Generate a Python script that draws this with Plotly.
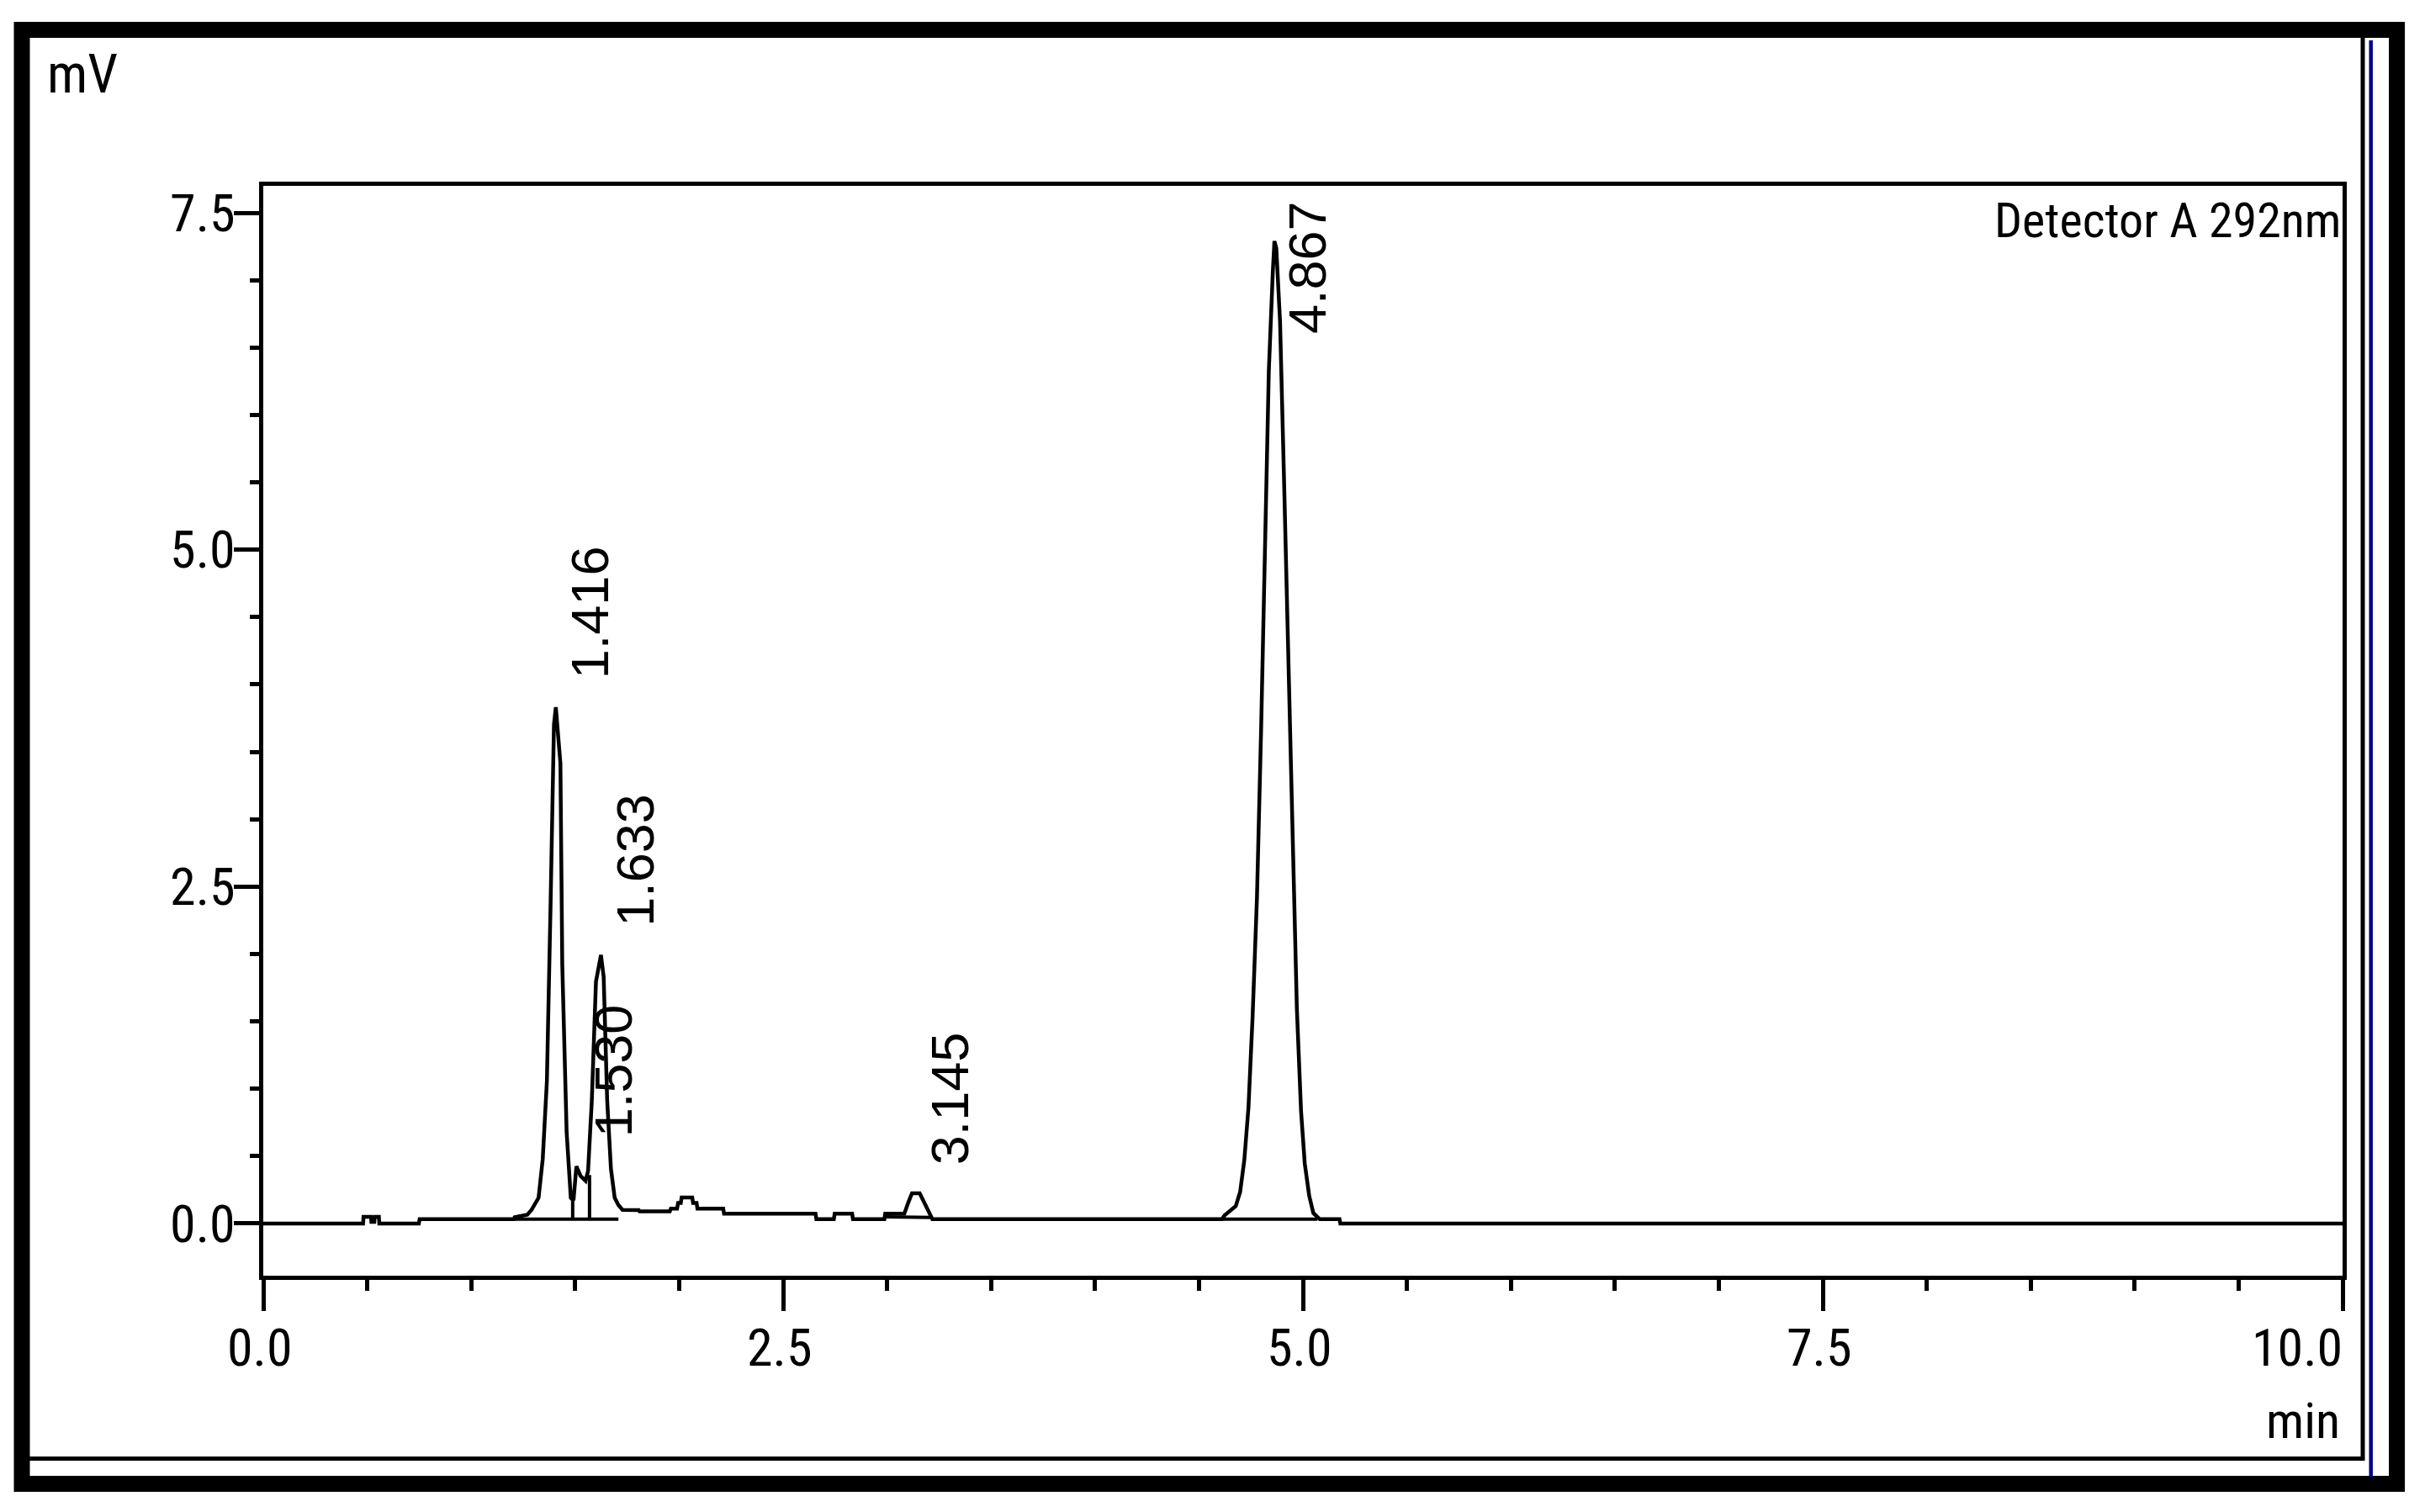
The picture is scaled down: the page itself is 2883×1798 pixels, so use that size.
import plotly.graph_objects as go

# ---------------- data ----------------
time_min = [
    0.000, 0.480, 0.482, 0.518, 0.520, 0.534, 0.536, 0.556, 0.558, 0.748, 0.752,
    1.205, 1.209, 1.270, 1.290, 1.310, 1.324, 1.344, 1.364, 1.382, 1.398, 1.407,
    1.418, 1.429, 1.438, 1.459, 1.479, 1.492, 1.506, 1.526, 1.550, 1.562, 1.580,
    1.600, 1.624, 1.637, 1.654, 1.672, 1.690, 1.708, 1.728, 1.806, 1.810, 1.955,
    1.960, 1.990, 1.995, 2.008, 2.012, 2.063, 2.067, 2.084, 2.088, 2.212, 2.216,
    2.656, 2.660, 2.744, 2.748, 2.832, 2.836, 2.987, 2.991, 3.083, 3.103, 3.120,
    3.157, 3.177, 3.197, 3.218, 4.610, 4.623, 4.677, 4.698, 4.718, 4.738, 4.758,
    4.779, 4.799, 4.819, 4.836, 4.855, 4.863, 4.872, 4.890, 4.910, 4.930, 4.951,
    4.971, 4.991, 5.009, 5.030, 5.050, 5.081, 5.176, 5.180, 10.000,
]
signal_mv = [
    0.000, 0.000, 0.050, 0.050, 0.012, 0.012, 0.050, 0.050, 0.000, 0.000, 0.032,
    0.032, 0.047, 0.065, 0.101, 0.155, 0.191, 0.479, 1.056, 2.389, 3.704, 3.831,
    3.596, 3.416, 1.921, 0.677, 0.191, 0.173, 0.425, 0.353, 0.317, 0.389, 0.912,
    1.795, 1.993, 1.831, 0.912, 0.407, 0.191, 0.137, 0.101, 0.100, 0.090, 0.090,
    0.110, 0.110, 0.153, 0.153, 0.194, 0.194, 0.153, 0.153, 0.110, 0.110, 0.073,
    0.073, 0.032, 0.032, 0.073, 0.073, 0.032, 0.032, 0.073, 0.073, 0.160, 0.225,
    0.225, 0.160, 0.090, 0.032, 0.032, 0.060, 0.130, 0.234, 0.469, 0.859, 1.536,
    2.421, 3.671, 5.025, 6.327, 7.055, 7.290, 7.238, 6.691, 5.467, 4.114, 2.708,
    1.588, 0.833, 0.443, 0.208, 0.078, 0.032, 0.032, 0.000, 0.000,
]

# integrated peaks
peak_rt = [1.416, 1.530, 1.633, 3.145, 4.867]
peak_labels = ["1.416", "1.530", "1.633", "3.145", "4.867"]
peak_height = [3.83, 0.43, 1.99, 0.225, 7.29]

# integration baselines (start/end time and level)
base_t0 = [1.209, 2.991, 4.612]
base_t1 = [1.708, 3.218, 5.070]
base_v0 = [0.032, 0.050, 0.032]
base_v1 = [0.032, 0.045, 0.032]

# perpendicular drop lines between fused peaks
drop_t = [1.488, 1.569]
drop_top = [0.18, 0.36]
drop_bottom = [0.032, 0.032]

x_tick_vals = [0.0, 2.5, 5.0, 7.5, 10.0]
x_tick_text = ["0.0", "2.5", "5.0", "7.5", "10.0"]
y_tick_vals = [0.0, 2.5, 5.0, 7.5]
y_tick_text = ["0.0", "2.5", "5.0", "7.5"]

x_range = [0.0, 10.0]
y_range = [-0.387, 7.70]

# ---------------- layout geometry (page pixels) ----------------
OFF = 8                      # default body margin of the html page
W, H = 2883 - OFF, 1798 - OFF
L, R, T, B = 313, 2785, 221, 1517
NARROW = "Roboto Condensed, Liberation Sans, sans-serif"
REG = "Liberation Sans, Arial, sans-serif"


def px(xp):
    return (xp - L) / (R - L)


def py(yp):
    return (B - yp) / (B - T)


fig = go.Figure()
fig.add_trace(go.Scatter(x=time_min, y=signal_mv, mode="lines",
                         line=dict(color="black", width=4.5), hoverinfo="skip"))
bx, by = [], []
for a, b, va, vb in zip(base_t0, base_t1, base_v0, base_v1):
    bx += [a, b, None]
    by += [va, vb, None]
for t, top, bot in zip(drop_t, drop_top, drop_bottom):
    bx += [t, t, None]
    by += [top, bot, None]
fig.add_trace(go.Scatter(x=bx, y=by, mode="lines",
                         line=dict(color="black", width=4), hoverinfo="skip"))

annotations = []
# rotated retention-time labels above the peaks
for rt, lab, h in zip(peak_rt, peak_labels, peak_height):
    annotations.append(dict(
        x=rt, y=min(h, 6.39), xref="x", yref="y", text=lab, showarrow=False,
        textangle=-90, xanchor="center", yanchor="bottom", xshift=38, yshift=32,
        font=dict(family=REG, size=63, color="black")))

# x tick labels (last one right-aligned on its tick)
for v, s in zip(x_tick_vals, x_tick_text):
    last = v == x_tick_vals[-1]
    annotations.append(dict(
        x=v, y=0, xref="x", yref="paper", text=s, showarrow=False,
        xanchor="right" if last else "center", yanchor="middle",
        xshift=2 if last else -4, yshift=-85,
        font=dict(family=NARROW, size=62, color="black")))

annotations += [
    dict(x=px(54), y=py(88), xref="paper", yref="paper", text="mV", showarrow=False,
         xanchor="left", yanchor="middle", font=dict(family=NARROW, size=64, color="black")),
    dict(x=px(2784), y=py(1689), xref="paper", yref="paper", text="min", showarrow=False,
         xanchor="right", yanchor="middle", font=dict(family=NARROW, size=60, color="black")),
    dict(x=px(2786), y=py(262), xref="paper", yref="paper", text="Detector A 292nm",
         showarrow=False, xanchor="right", yanchor="middle",
         font=dict(family=NARROW, size=58, color="black")),
]

shapes = [
    dict(type="rect", xref="paper", yref="paper", x0=px(26), x1=px(2849.5),
         y0=py(1764.5), y1=py(35.5), line=dict(color="black", width=19)),
    dict(type="line", xref="paper", yref="paper", x0=px(35), x1=px(2811),
         y0=py(1734.5), y1=py(1734.5), line=dict(color="black", width=5)),
    dict(type="line", xref="paper", yref="paper", x0=px(2809), x1=px(2809),
         y0=py(45), y1=py(1737), line=dict(color="black", width=5)),
    dict(type="line", xref="paper", yref="paper", x0=px(2818.7), x1=px(2818.7),
         y0=py(48), y1=py(1756), line=dict(color="#00008B", width=4.5)),
]

fig.update_layout(
    width=W, height=H,
    margin=dict(l=L - OFF, r=2883 - R, t=T - OFF, b=1798 - B, pad=0),
    paper_bgcolor="white", plot_bgcolor="white",
    showlegend=False, hovermode=False,
    annotations=annotations, shapes=shapes,
    xaxis=dict(range=x_range, tickmode="array", tickvals=x_tick_vals,
               showticklabels=False, ticks="outside", ticklen=37, tickwidth=5,
               tickcolor="black", showline=True, linewidth=5, linecolor="black",
               mirror=True, showgrid=False, zeroline=False,
               minor=dict(ticks="outside", ticklen=13, tickwidth=5, tickcolor="black",
                          tick0=0, dtick=0.5, showgrid=False)),
    yaxis=dict(range=y_range, tickmode="array", tickvals=y_tick_vals,
               ticktext=y_tick_text, ticks="outside", ticklen=30, tickwidth=5,
               tickcolor="black", showline=True, linewidth=5, linecolor="black",
               mirror=True, showgrid=False, zeroline=False, ticklabelstandoff=-14,
               tickfont=dict(family=NARROW, size=62, color="black"),
               minor=dict(ticks="outside", ticklen=11, tickwidth=5, tickcolor="black",
                          tick0=0, dtick=0.5, showgrid=False)),
)

fig.write_html("out.html")
